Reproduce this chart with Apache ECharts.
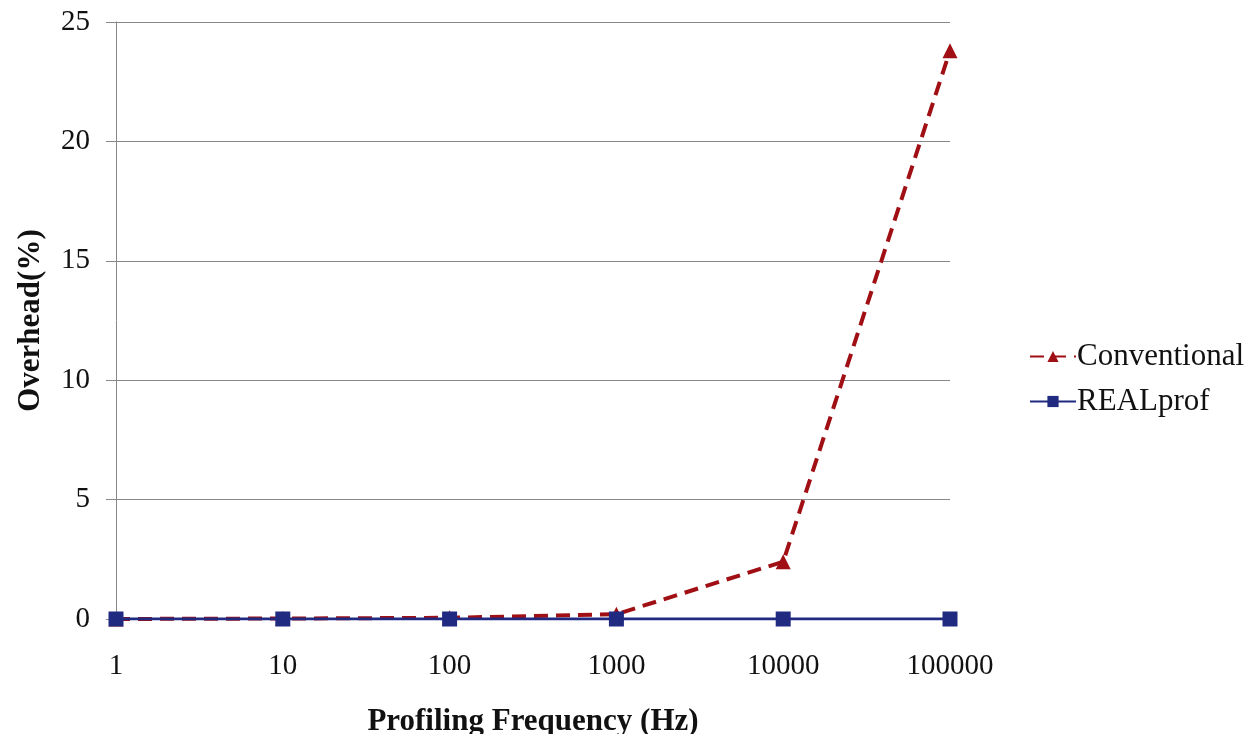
<!DOCTYPE html>
<html><head><meta charset="utf-8">
<script src="https://cdn.jsdelivr.net/npm/echarts@6/dist/echarts.min.js"></script>
<style>html,body{margin:0;padding:0;background:#fff}#c{width:1256px;height:734px}</style>
</head><body><div id="c"></div>
<script>
const categories = ['1','10','100','1000','10000','100000'];
const conventional = [0, 0.02, 0.05, 0.2, 2.4, 23.8];
const realprof = [0, 0, 0, 0, 0, 0];
const yTicks = [0, 5, 10, 15, 20, 25];

const chart = echarts.init(document.getElementById('c'));
const font = '"Liberation Serif","Times New Roman",serif';
chart.setOption({
  backgroundColor: '#fff',
  animation: false,
  grid: {left: 116, right: 306, top: 22, bottom: 115, containLabel: false, outerBoundsMode: 'none'},
  legend: {
    orient: 'vertical', left: 1024, top: 336, itemGap: 14,
    itemWidth: 46, itemHeight: 14,
    textStyle: {fontFamily: font, fontSize: 31, color: '#111', padding: [0, 0, 0, -4]},
    data: ['Conventional', 'REALprof']
  },
  xAxis: {
    type: 'category', data: categories, boundaryGap: false,
    name: 'Profiling Frequency (Hz)', nameLocation: 'middle', nameGap: 87,
    nameTextStyle: {fontFamily: font, fontSize: 31, fontWeight: 'bold', color: '#111'},
    axisLine: {show: true, lineStyle: {color: '#888', width: 1}},
    axisTick: {show: true, length: 5, inside: false, alignWithLabel: true, lineStyle: {color: '#888'}},
    axisLabel: {fontFamily: font, fontSize: 29, color: '#111', margin: 33}
  },
  yAxis: {
    type: 'value', min: 0, max: yTicks[yTicks.length-1], interval: 5,
    name: 'Overhead(%)', nameLocation: 'middle', nameGap: 70, nameRotate: 90,
    nameTextStyle: {fontFamily: font, fontSize: 31, fontWeight: 'bold', color: '#111'},
    axisLine: {show: true, lineStyle: {color: '#888', width: 1}},
    axisTick: {show: true, length: 10, lineStyle: {color: '#888'}},
    axisLabel: {fontFamily: font, fontSize: 29, color: '#111', margin: 26},
    splitLine: {show: true, lineStyle: {color: '#888', width: 1}}
  },
  series: [
    {
      name: 'Conventional', type: 'line', data: conventional,
      symbol: 'triangle', symbolSize: 15, showSymbol: true,
      lineStyle: {color: '#A00F14', width: 4, type: [14, 8]},
      itemStyle: {color: '#A00F14'}, z: 3
    },
    {
      name: 'REALprof', type: 'line', data: realprof,
      symbol: 'rect', symbolSize: 15,
      lineStyle: {color: '#1F2A80', width: 3},
      itemStyle: {color: '#1F2A80'}, z: 4
    }
  ]
});
</script></body></html>
